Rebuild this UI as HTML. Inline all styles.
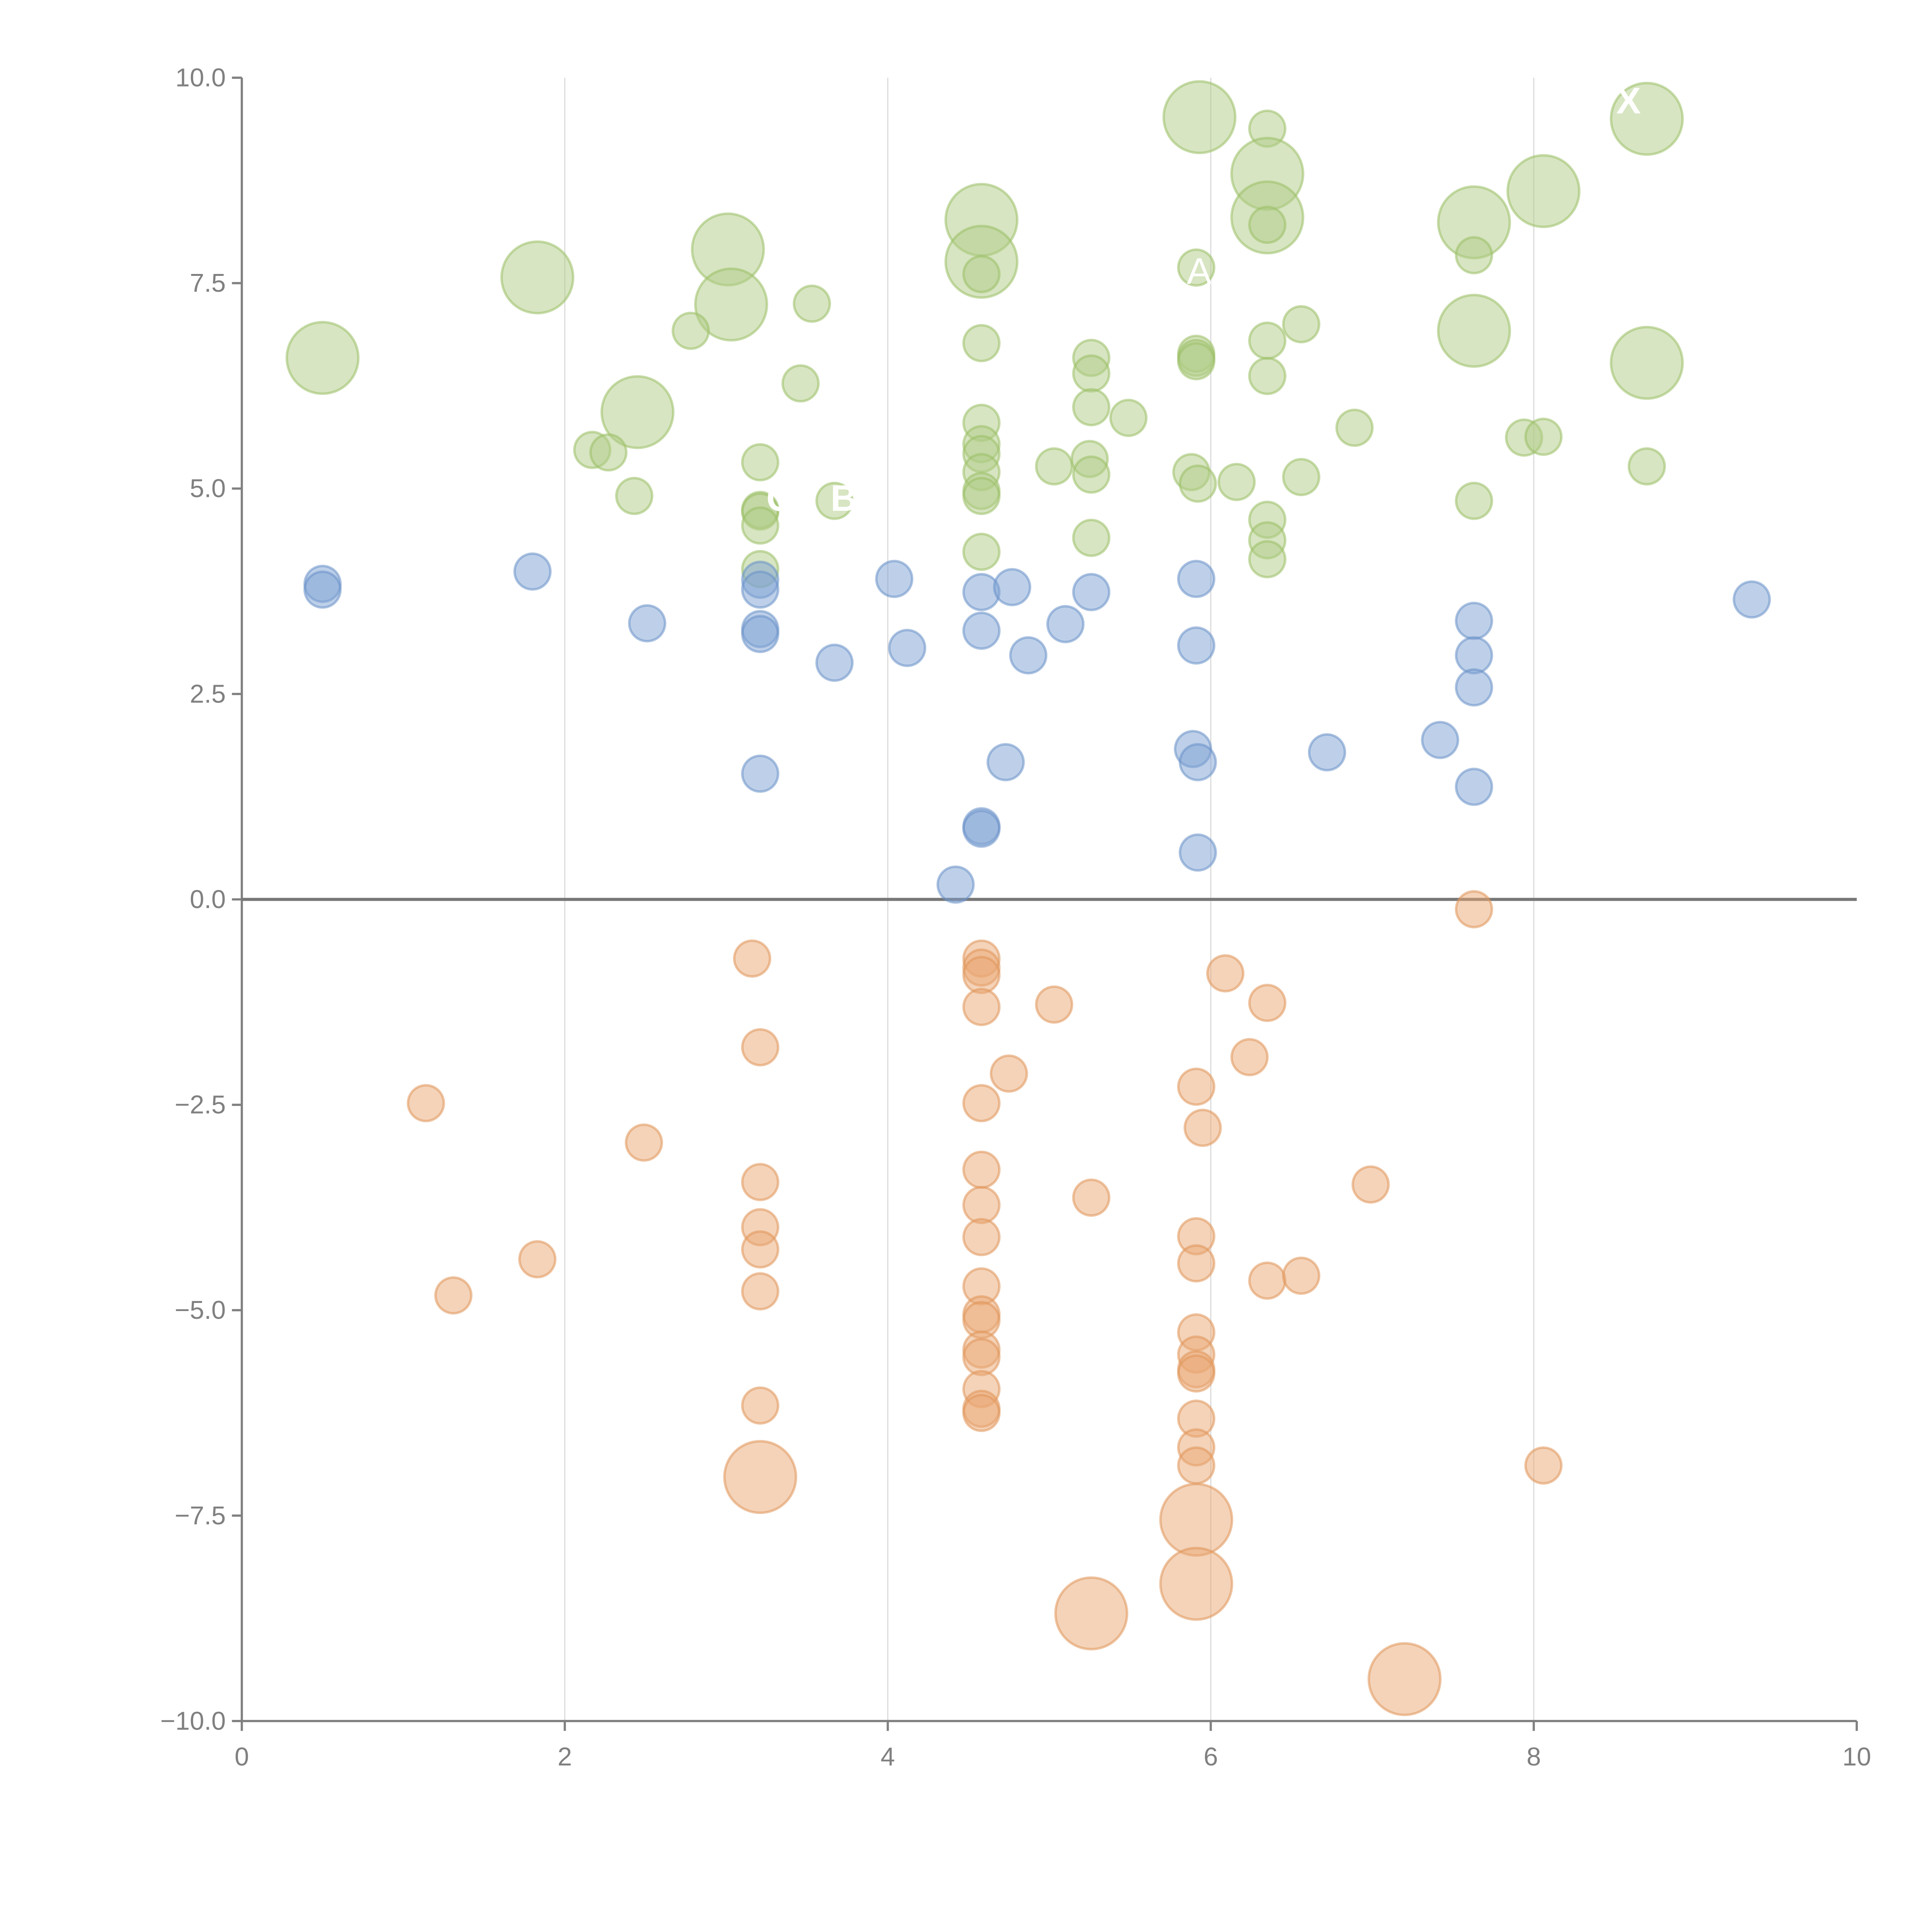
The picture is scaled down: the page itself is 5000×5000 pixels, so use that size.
<!DOCTYPE html>
<html><head><meta charset="utf-8">
<style>
html,body{margin:0;padding:0;background:#fff;}
svg{display:block;}
text{font-family:"Liberation Sans",sans-serif;}
</style></head>
<body>
<svg id="chart" width="5000" height="5000" viewBox="0 0 1566 1566" xmlns="http://www.w3.org/2000/svg">
<g id="grid"></g>
<g id="axes"></g>
<g id="marks"></g>
<g id="labels">
<text x="972" y="230" font-size="30" fill="#fff" text-anchor="middle">A</text>
<text x="632" y="414" font-size="30" fill="#fff" font-weight="bold" text-anchor="middle">C</text>
<text x="684" y="414" font-size="30" fill="#fff" font-weight="bold" text-anchor="middle">B</text>
<text x="1320" y="92" font-size="30" fill="#fff" font-weight="bold" text-anchor="middle">X</text>
</g>
</svg>
<script>
const xTicks = [0,2,4,6,8,10];
const yTicks = [10,7.5,5,2.5,0,-2.5,-5,-7.5,-10];
const yTickLabels = ["10.0","7.5","5.0","2.5","0.0","\u22122.5","\u22125.0","\u22127.5","\u221210.0"];
const greenX = [0.5,1.83,2.45,3.01,3.03,2.78,3.53,3.46,2.17,2.27,2.43,3.21,3.21,3.21,3.21,3.21,3.67,4.58,4.58,4.58,4.58,4.58,4.58,4.58,4.58,4.58,4.58,4.58,5.03,5.26,5.26,5.26,5.25,5.26,5.26,5.49,5.93,5.91,5.91,5.91,5.91,5.88,5.92,6.16,6.35,6.35,6.35,6.35,6.35,6.35,6.35,6.35,6.35,6.56,6.56,6.89,7.63,7.63,7.63,7.63,7.94,8.06,8.06,8.7,8.7,8.7];
const greenY = [6.59,7.57,5.93,7.91,7.24,6.92,7.25,6.28,5.47,5.44,4.91,5.32,4.74,4.72,4.55,4.02,4.85,8.27,7.76,7.61,6.77,5.8,5.54,5.42,5.2,4.97,4.91,4.23,5.27,6.59,6.4,5.99,5.36,5.17,4.4,5.86,9.52,7.69,6.64,6.59,6.55,5.2,5.06,5.08,9.38,8.83,8.30,8.21,6.8,6.37,4.62,4.37,4.14,7.0,5.14,5.74,8.24,6.92,7.84,4.85,5.62,5.63,8.62,9.5,6.53,5.27];
const greenS = [4,4,4,4,4,1,1,1,1,1,1,1,1,1,1,1,1,4,4,1,1,1,1,1,1,1,1,1,1,1,1,1,1,1,1,1,4,1,1,1,1,1,1,1,1,4,4,1,1,1,1,1,1,1,1,1,4,4,1,1,1,1,4,4,4,1];
const blueX = [0.5,0.5,1.8,2.51,3.21,3.21,3.21,3.21,3.21,3.67,4.04,4.12,4.58,4.58,4.58,4.58,4.42,4.73,4.77,4.87,5.1,5.26,5.91,5.91,5.89,5.92,5.92,6.72,7.42,7.63,7.63,7.63,7.63,9.35];
const blueY = [3.84,3.77,3.99,3.36,3.89,3.77,3.29,3.23,1.53,2.88,3.9,3.06,3.74,3.27,0.89,0.86,0.18,1.67,3.8,2.97,3.35,3.74,3.9,3.09,1.83,1.67,0.57,1.79,1.94,3.39,2.97,2.58,1.37,3.65];
const blueS = blueX.map(()=>1);
const orangeX = [1.14,1.31,1.83,2.49,3.16,3.21,3.21,3.21,3.21,3.21,3.21,3.21,4.58,4.58,4.58,4.58,4.58,4.58,4.58,4.58,4.58,4.58,4.58,4.58,4.58,4.58,4.58,4.58,4.75,5.03,5.26,5.26,5.91,5.95,5.91,5.91,5.91,5.91,5.91,5.91,5.91,5.91,5.91,5.91,5.91,6.09,6.24,6.35,6.35,6.56,6.99,7.2,7.63,8.06];
const orangeY = [-2.48,-4.82,-4.38,-2.96,-0.72,-1.8,-3.44,-3.99,-4.26,-4.77,-6.16,-7.03,-0.72,-0.83,-0.92,-1.31,-2.48,-3.29,-3.72,-4.11,-4.71,-5.05,-5.12,-5.48,-5.57,-5.96,-6.2,-6.25,-2.12,-1.28,-3.63,-8.69,-2.28,-2.78,-4.1,-4.43,-5.27,-5.54,-5.72,-5.77,-6.32,-6.67,-6.89,-7.55,-8.33,-0.9,-1.92,-1.26,-4.64,-4.58,-3.47,-9.49,-0.12,-6.89];
const orangeS = [1,1,1,1,1,1,1,1,1,1,1,4,1,1,1,1,1,1,1,1,1,1,1,1,1,1,1,1,1,1,1,4,1,1,1,1,1,1,1,1,1,1,1,4,4,1,1,1,1,1,1,4,1,1];

const NS="http://www.w3.org/2000/svg";
const X0=196,X1=1505,Y0=1395,Y1=63;
function sx(v){return X0+(v-0)/(10-0)*(X1-X0);}
function sy(v){return Y0-(v+10)/20*(Y0-Y1);}
function sr(s){return 14.5*Math.sqrt(s);}
function mk(tag,attrs,parent){const e=document.createElementNS(NS,tag);for(const k in attrs)e.setAttribute(k,attrs[k]);parent.appendChild(e);return e;}
const grid=document.getElementById('grid'),axes=document.getElementById('axes'),marks=document.getElementById('marks');
xTicks.forEach(t=>{
  if(t>0&&t<10){const l=mk('line',{x1:sx(t),x2:sx(t),y1:Y1,y2:Y0,stroke:'#dddddd','stroke-width':1},grid);
  
  }
  const tk=mk('line',{x1:sx(t),x2:sx(t),y1:Y0,y2:Y0+8,stroke:'#808080','stroke-width':1.8},axes);
  
  
  const tx=mk('text',{x:sx(t),y:Y0+36,'font-size':21,fill:'#808080','text-anchor':'middle'},axes);
  tx.textContent=t;
  
  
});
yTicks.forEach((t,i)=>{
  const tk=mk('line',{x1:X0-8,x2:X0,y1:sy(t),y2:sy(t),stroke:'#808080','stroke-width':1.8},axes);
  
  
  const tx=mk('text',{x:X0-13,y:sy(t)+7,'font-size':21,fill:'#808080','text-anchor':'end'},axes);
  tx.textContent=yTickLabels[i];
  
  
});
const ya=mk('line',{x1:X0,x2:X0,y1:Y1,y2:Y0,stroke:'#808080','stroke-width':1.8},axes);


const xa=mk('line',{x1:X0,x2:X1,y1:Y0,y2:Y0,stroke:'#808080','stroke-width':1.8},axes);


function series(xs,ys,ss,fill,stroke,name){
  xs.forEach((x,i)=>{
    const c=mk('circle',{cx:sx(x),cy:sy(ys[i]),r:sr(ss[i]),fill:fill,'fill-opacity':0.5,stroke:stroke,'stroke-opacity':0.55,'stroke-width':2},marks);
    
    
  });
}
series(greenX,greenY,greenS,'#b0cc85','#9bbf66','bubble-green');
series(blueX,blueY,blueS,'#7ea1d3','#6a91c9','bubble-blue');
series(orangeX,orangeY,orangeS,'#e9a873','#e0955a','bubble-orange');
const z=mk('line',{x1:X0,x2:X1,y1:sy(0),y2:sy(0),stroke:'#777','stroke-width':2.5},axes);


</script>
</body></html>
